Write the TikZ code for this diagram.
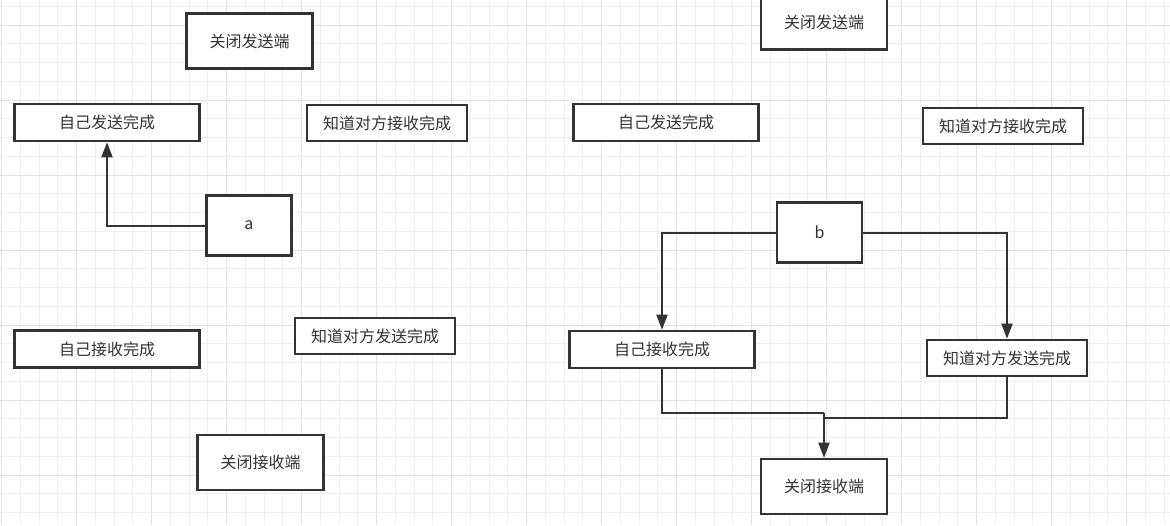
\documentclass[tikz,border=0pt]{standalone}
\usepackage{fontspec}
\setmainfont{Noto Sans CJK SC}
\usetikzlibrary{arrows.meta}
\definecolor{ink}{HTML}{333333}
\definecolor{gridminor}{HTML}{F0F0F0}
\definecolor{gridmajor}{HTML}{E2E2E2}
\tikzset{
  box/.style={draw=ink, line width=2.6pt, fill=white, text=ink, inner sep=0pt,
    font=\fontsize{16}{18}\selectfont},
  bigbox/.style={box, minimum width=126pt, minimum height=55pt},
  widebox/.style={box, minimum width=185pt, minimum height=37pt},
  midbox/.style={box, minimum width=160pt, minimum height=36pt},
  letterbox/.style={box, minimum width=85pt, minimum height=60pt},
  conn/.style={draw=ink, line width=2pt},
  arr/.style={conn, -{Triangle[length=15pt,width=11pt]}},
}
\begin{document}
\begin{tikzpicture}[x=1pt,y=-1pt]
\useasboundingbox (0,0) rectangle (1170,525);
\fill[white] (0,0) rectangle (1170,525);
% grid
\foreach \k in {0,...,62} {
  \pgfmathtruncatemacro{\m}{mod(\k,4)}
  \pgfmathsetmacro{\xx}{1.7+18.75*\k}
  \ifnum\m=0
    \draw[gridmajor, line width=1pt] (\xx,0) -- (\xx,525);
  \else
    \draw[gridminor, line width=1pt] (\xx,0) -- (\xx,525);
  \fi
}
\foreach \k in {0,...,27} {
  \pgfmathtruncatemacro{\m}{mod(\k,4)}
  \pgfmathsetmacro{\yy}{6.25+18.75*\k}
  \ifnum\m=1
    \draw[gridmajor, line width=1pt] (0,\yy) -- (1170,\yy);
  \else
    \draw[gridminor, line width=1pt] (0,\yy) -- (1170,\yy);
  \fi
}
% left diagram
\node[bigbox]    (L1) at (249.5,41)  {关闭发送端};
\node[widebox]   (L2) at (107,122.5) {自己发送完成};
\node[midbox]    (L3) at (387,123)   {知道对方接收完成};
\node[letterbox] (a)  at (249,225.5) {a};
\node[widebox]   (L4) at (107,349)   {自己接收完成};
\node[midbox]    (L5) at (375,336)   {知道对方发送完成};
\node[bigbox]    (L6) at (260.5,462.5) {关闭接收端};
\draw[arr] (a.west) -| (L2.south);
% right diagram
\node[bigbox]    (R1) at (824,22)    {关闭发送端};
\node[widebox]   (R2) at (666,122.5) {自己发送完成};
\node[midbox]    (R3) at (1003,126)  {知道对方接收完成};
\node[letterbox] (b)  at (819.5,232.5) {b};
\node[widebox]   (R4) at (662,349.5) {自己接收完成};
\node[midbox]    (R5) at (1007,358)  {知道对方发送完成};
\node[bigbox]    (R6) at (824,486.5) {关闭接收端};
\draw[arr] (b.west) -| (R4.north);
\draw[arr] (b.east) -| (R5.north);
\coordinate (m1) at (824,413);
\coordinate (m2) at (824,418);
\draw[conn] (R4.south) |- (m1);
\draw[conn] (R5.south) |- (m2);
\draw[arr] (m1) -- (R6.north);
\end{tikzpicture}
\end{document}
